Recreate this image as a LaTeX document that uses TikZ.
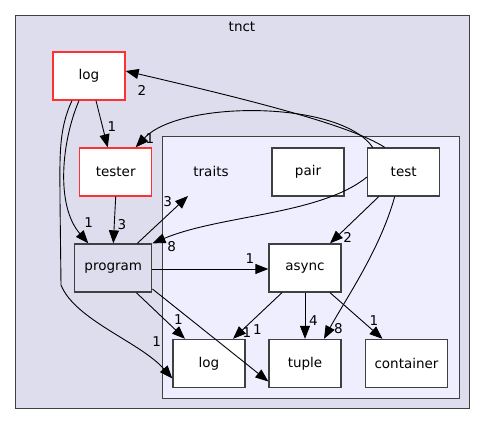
\documentclass[tikz,border=0pt]{standalone}
\usepackage{fontspec}
\setmainfont{DejaVu Sans}
\usepackage{tikz}
\usetikzlibrary{arrows.meta,positioning}
\definecolor{outerc}{HTML}{DDDDEE}
\definecolor{innerc}{HTML}{EEEEFF}
\definecolor{edgec}{HTML}{404040}
\definecolor{redc}{HTML}{FF3030}
\tikzset{
  dep/.style={-{Triangle[length=13pt,width=10pt]},black,line width=0.9pt},
  dirbox/.style={draw=edgec,line width=1.3pt,fill=white,minimum width=72pt,minimum height=48pt,inner sep=0pt,font=\fontsize{13.5}{15}\selectfont},
  lab/.style={font=\fontsize{13.5}{15}\selectfont,inner sep=0pt}
}
\begin{document}
\begin{tikzpicture}[x=1pt,y=-1pt]
\useasboundingbox (0,0) rectangle (485,425);
\draw[edgec,fill=outerc,line width=1pt] (15.7,15.3) rectangle (469.3,408.3);
\node[lab] (tnct) at (242,27) {tnct};
\draw[edgec,fill=innerc,line width=1pt] (162.3,136.7) rectangle (459,398.3);
\node[lab] (traits) at (211,171) {traits};
\coordinate (traitsin) at (188,196);
\node[dirbox,draw=redc] (logt) at (89,76) {log};
\node[dirbox,draw=redc] (tester) at (115.7,172) {tester};
\node[dirbox] (pair) at (308,172) {pair};
\node[dirbox] (test) at (403.7,172) {test};
\node[dirbox,fill=outerc,minimum width=77pt] (program) at (113.3,268) {program};
\node[dirbox] (async) at (305,268) {async};
\node[dirbox] (logi) at (209,363.5) {log};
\node[dirbox] (tuple) at (305,363.5) {tuple};
\node[dirbox,minimum width=82pt] (container) at (406.5,363.5) {container};
\draw[dep] ([xshift=7]logt.south) -- ([xshift=-8]tester.north);
\draw[dep] ([xshift=-10]logt.south) .. controls (62,140) and (55,205) .. ([xshift=-25]program.north);
\draw[dep] ([xshift=-17]logt.south) .. controls (58,130) and (60,160) .. (60,200) -- (61,285) .. controls (75,320) and (140,342) .. ([yshift=-15]logi.west);
\draw[dep] ([xshift=-19]test.north) .. controls (350,125) and (250,100) .. ([yshift=5]logt.east);
\draw[dep] ([xshift=-31]test.north) .. controls (340,100) and (180,100) .. ([xshift=20]tester.north);
\draw[dep] ([yshift=-5]test.west) .. controls (320,215) and (220,215) .. (program.north east);
\draw[dep] ([xshift=-25]test.south) -- ([xshift=25]async.north);
\draw[dep] ([xshift=-9]test.south) .. controls (380,250) and (345,300) .. ([xshift=19]tuple.north);
\draw[dep] (tester.south) -- (program.north);
\draw[dep] ([xshift=24]program.north) -- (traitsin);
\draw[dep] ([yshift=-1]program.east) -- ([yshift=-1]async.west);
\draw[dep] ([xshift=23]program.south) -- ([xshift=-24]logi.north);
\draw[dep] ([yshift=-21]program.east) -- ([yshift=-18]tuple.west);
\draw[dep] ([xshift=-23]async.south) -- ([xshift=24]logi.north);
\draw[dep] (async.south) -- (tuple.north);
\draw[dep] ([xshift=25]async.south) -- ([xshift=-24]container.north);
\node[lab] (n1) at (142,90.7) {2};
\node[lab] (n2) at (112,126.7) {1};
\node[lab] (n3) at (150,139) {1};
\node[lab] (n4) at (88.7,222.7) {1};
\node[lab] (n5) at (122,225) {3};
\node[lab] (n6) at (167.7,201.7) {3};
\node[lab] (n7) at (171.7,246.7) {8};
\node[lab] (n8) at (347.7,237.3) {2};
\node[lab] (n9) at (250,258.3) {1};
\node[lab] (n10) at (178.3,320) {1};
\node[lab] (n11) at (247,333) {1};
\node[lab] (n12) at (257.5,329.3) {1};
\node[lab] (n13) at (313.3,320.7) {4};
\node[lab] (n14) at (338.3,329) {8};
\node[lab] (n15) at (374,320.7) {1};
\node[lab] (n16) at (156.7,341.7) {1};
\end{tikzpicture}
\end{document}
